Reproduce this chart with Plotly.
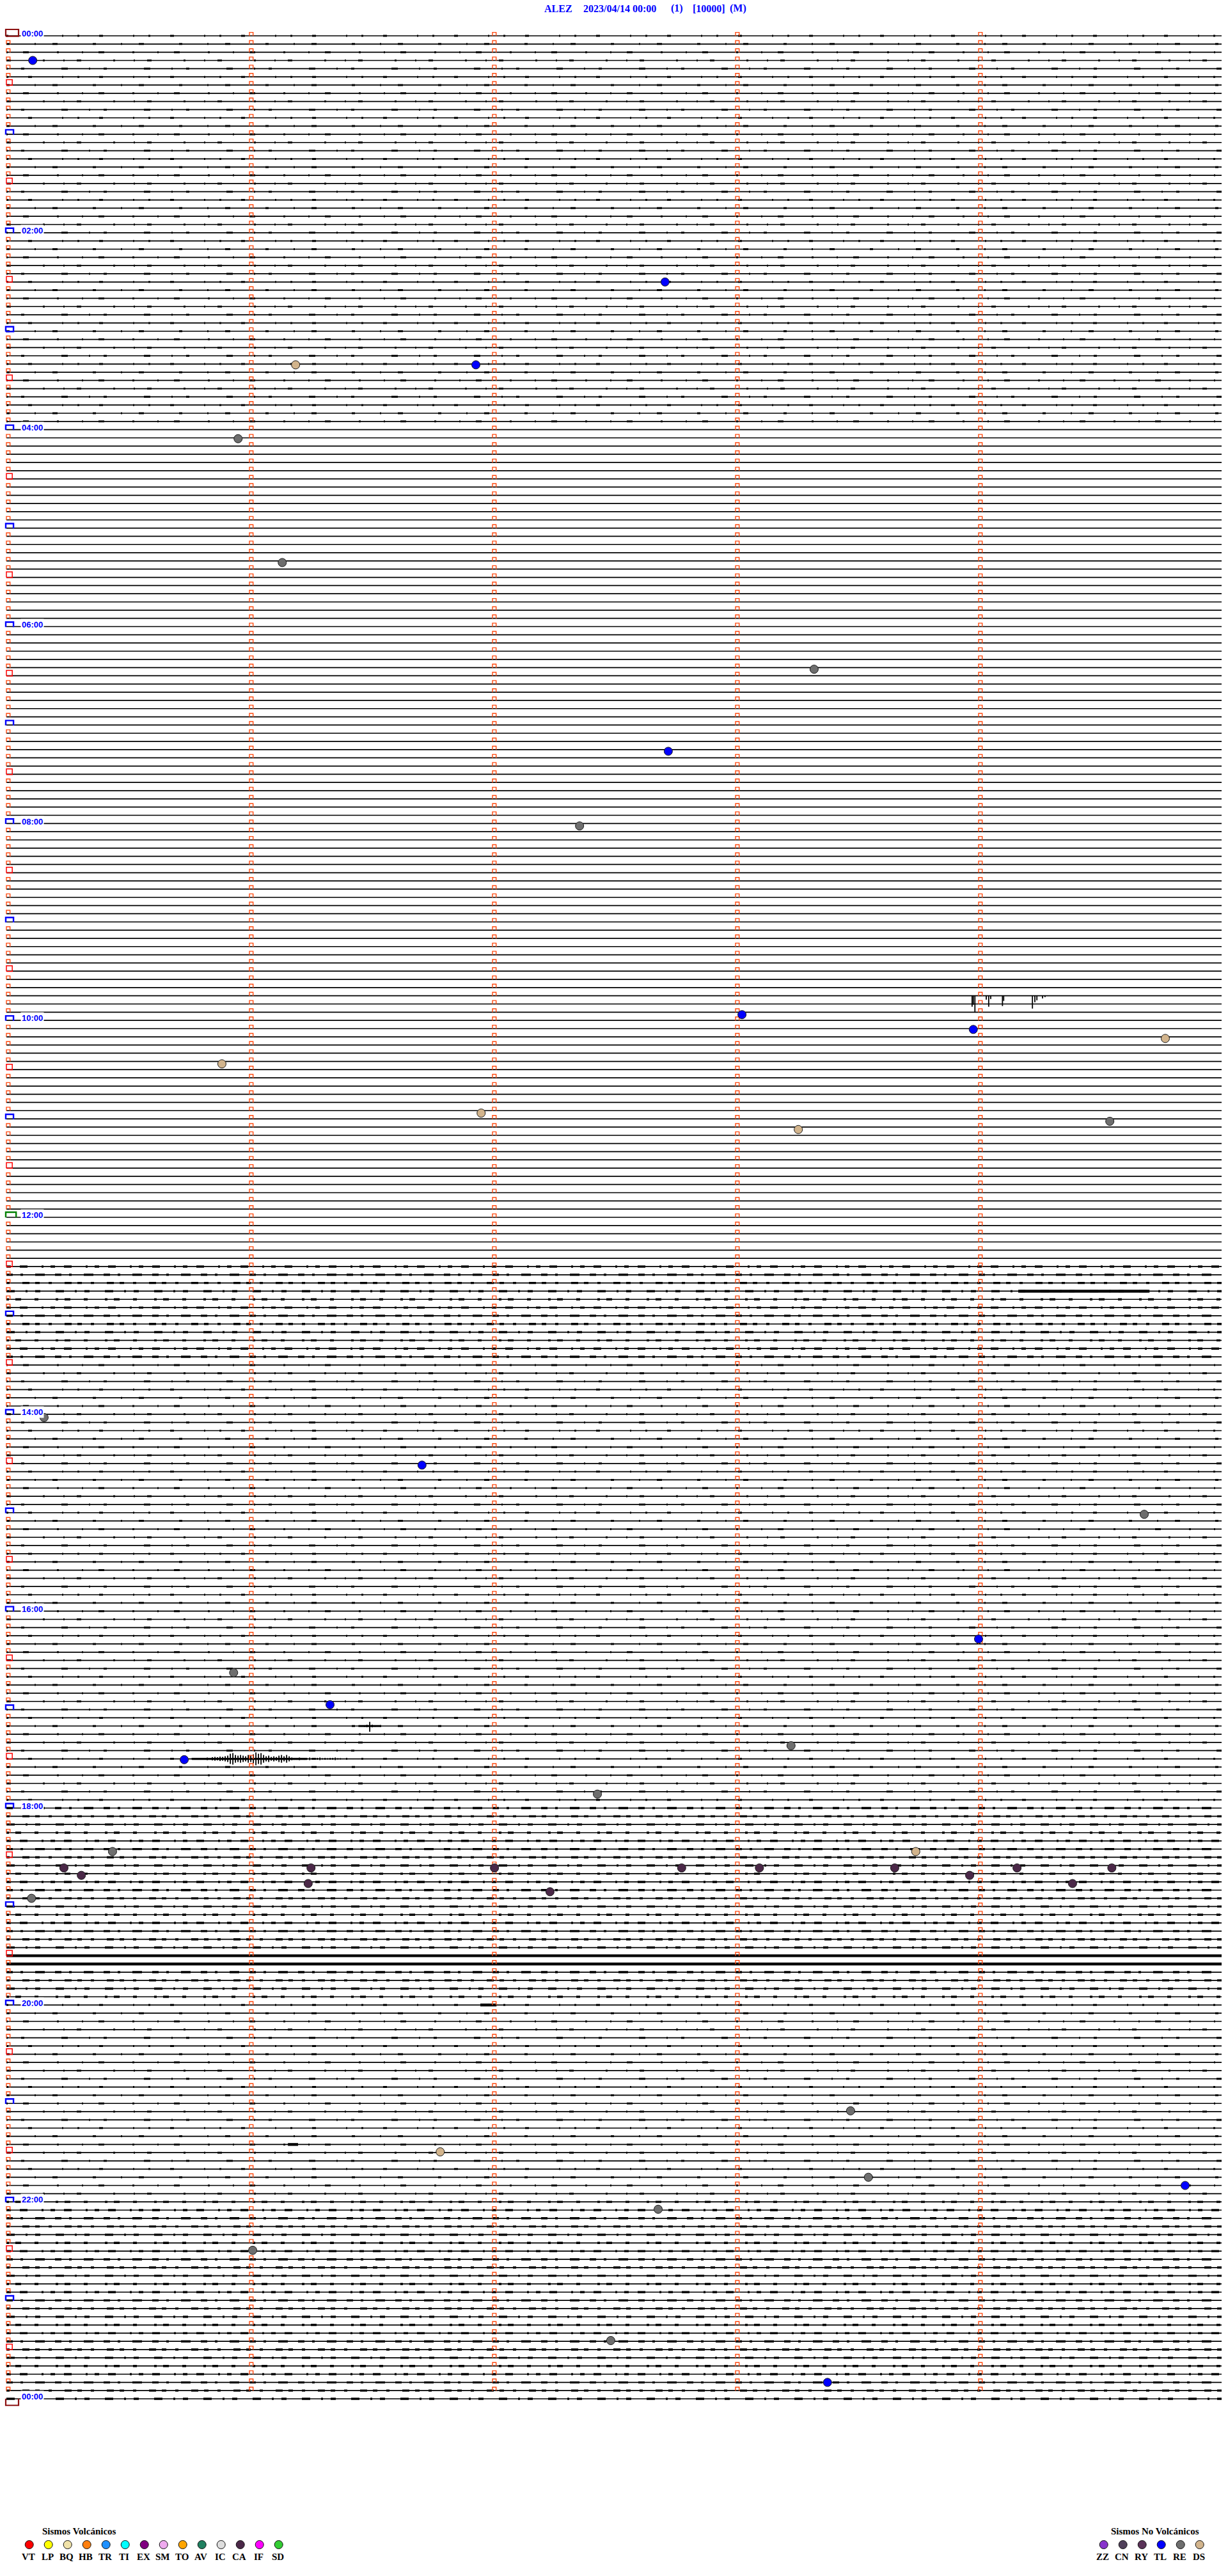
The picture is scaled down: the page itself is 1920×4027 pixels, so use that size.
import plotly.graph_objects as go

# ---------------- data ----------------
STATION = "ALEZ"
DATE_TXT = "2023/04/14 00:00"
TITLE_EXTRA = ["(1)", "[10000]", "(M)"]

N_ROWS = 289            # 5-minute rows, 00:00 .. 24:00
ROW_SECONDS = 300
MINUTE_TICKS = [0, 60, 120, 180, 240]

hour_labels = ["00:00", "02:00", "04:00", "06:00", "08:00", "10:00", "12:00",
               "14:00", "16:00", "18:00", "20:00", "22:00", "00:00"]
label_rows = [0, 24, 48, 72, 96, 120, 144, 168, 192, 216, 240, 264, 288]

# background noise level per half hour (0 quiet, 1 light, 2 busy)
half_hour_noise = [1, 1, 1, 1, 1, 1, 1, 1,
                   0, 0, 0, 0, 0, 0, 0, 0,
                   0, 0, 0, 0, 0, 0, 0, 0,
                   0, 2, 2, 1, 1, 1, 1, 1,
                   1, 1, 1, 1, 2, 2, 2, 2,
                   1, 1, 1, 1, 2, 2, 2, 2, 2]

# rows / segments with heavy continuous noise: (row, t_start, t_end)
heavy_rows = [234, 235]
busy_seg_row = [153, 240, 257]
busy_seg_t0 = [249.8, 117.0, 69.5]
busy_seg_t1 = [282.2, 121.0, 72.0]

# 09:45 row: downward spikes (time s, amplitude in row spacings)
spike_row = 117
spike_t = [238.4, 238.7, 239.1, 241.9, 242.5, 243.0, 245.9, 246.2, 253.3, 253.9, 254.4, 255.8, 256.4]
spike_amp = [1.33, 1.09, 2.03, 0.47, 1.33, 0.39, 1.25, 0.62, 1.56, 0.78, 0.55, 0.31, 0.16]

# 17:30 row: tremor-like burst (peak amplitudes, row spacings)
burst_row = 210
burst_t0 = 45.8
burst_dt = 0.632
burst_amp = [0.08, 0.08, 0.12, 0.08, 0.12, 0.08, 0.16, 0.12, 0.2, 0.23, 0.2, 0.27, 0.23, 0.31,
             0.39, 0.62, 0.7, 0.47, 0.39, 0.47, 0.39, 0.31, 0.47, 0.39, 0.55, 0.78, 0.62, 0.7,
             0.47, 0.31, 0.39, 0.23, 0.31, 0.23, 0.39, 0.47, 0.31, 0.47, 0.31, 0.16, 0.12, 0.12,
             0.16, 0.08, 0.12, 0.08, 0.16, 0.12, 0.08, 0.12, 0.16, 0.08, 0.12, 0.08, 0.12, 0.12,
             0.16, 0.08, 0.08, 0.04, 0.0, 0.04, 0.0, 0.04, 0.0, 0.04]

# 17:10 row small event
cross_row = 206
cross_t = [88.4, 89.0, 89.7, 90.3, 91.0]
cross_up = [0.1, 0.15, 0.5, 0.15, 0.1]
cross_down = [0.1, 0.15, 0.7, 0.15, 0.08]

# classified events: time within row (s), row position, class
ev_t = [6.5, 162.6, 71.4, 115.9, 57.2, 68.1, 199.4, 163.4, 141.5, 181.6, 238.7, 286.1,
        53.2, 117.2, 195.5, 272.4, 9.3, 102.6, 280.9, 240.0, 56.1, 79.9, 193.7, 43.9,
        145.9, 26.2, 224.5, 14.2, 18.5, 75.2, 74.5, 120.5, 134.2, 6.2, 166.7, 185.9,
        219.3, 237.8, 249.5, 263.2, 272.9, 208.4, 107.1, 212.8, 291.0, 160.9, 60.8,
        149.2, 202.7]
ev_row = [3.0, 30.0, 40.1, 40.1, 49.1, 64.2, 77.2, 87.2, 96.3, 119.3, 121.1, 122.2,
          125.3, 131.3, 133.3, 132.3, 168.4, 174.2, 180.2, 195.4, 199.5, 203.4, 208.4, 210.1,
          214.3, 221.3, 221.3, 223.3, 224.2, 223.3, 225.2, 223.3, 226.2, 227.0, 223.3, 223.3,
          223.3, 224.2, 223.3, 225.2, 223.3, 252.9, 257.9, 261.0, 262.0, 264.9, 269.9,
          280.9, 286.0]
ev_cls = ["TL", "TL", "DS", "TL", "RE", "RE", "RE", "TL", "RE", "TL", "TL", "DS",
          "DS", "DS", "DS", "RE", "RE", "TL", "RE", "TL", "RE", "TL", "RE", "TL",
          "RE", "RE", "DS", "CA", "CA", "CA", "CA", "CA", "CA", "RE", "CA", "CA",
          "CA", "CA", "CA", "CA", "CA", "RE", "DS", "RE", "TL", "RE", "RE",
          "RE", "TL"]

volc_codes = ["VT", "LP", "BQ", "HB", "TR", "TI", "EX", "SM", "TO", "AV", "IC", "CA", "IF", "SD"]
volc_colors = ["#ff0000", "#ffff00", "#f0e2a8", "#ff8010", "#1e90ff", "#00ffff", "#800080",
               "#eeaaee", "#ffa500", "#208060", "#dddddd", "#4b2848", "#ff00ff", "#33cc33"]
novolc_codes = ["ZZ", "CN", "RY", "TL", "RE", "DS"]
novolc_colors = ["#8833cc", "#50405a", "#5a3258", "#0000ff", "#6e6e6e", "#d2b48c"]

# ---------------- layout constants ----------------
W, H = 1920, 4027
X0_PX, PX_PER_SEC = 10.0, 380.0 / 60.0
Y0_PX, ROW_PX = 56.0, (3750.0 - 56.0) / 288.0
XR = [-X0_PX / PX_PER_SEC, (W - X0_PX) / PX_PER_SEC]
YR = [(H - Y0_PX) / ROW_PX, -Y0_PX / ROW_PX]
SEC_PER_PX = 1.0 / PX_PER_SEC

color_of = dict(zip(volc_codes + novolc_codes, volc_colors + novolc_colors))

fig = go.Figure()


def add_path(xs, ys, color, width, dash=None, xaxis="x", yaxis="y"):
    fig.add_trace(go.Scatter(x=xs, y=ys, mode="lines", hoverinfo="skip",
                             line=dict(color=color, width=width, dash=dash),
                             xaxis=xaxis, yaxis=yaxis, connectgaps=False))


# baselines
bx, by = [], []
for r in range(N_ROWS):
    bx += [0, ROW_SECONDS, None]
    by += [r, r, None]
add_path(bx, by, "#000000", 1.7)

# noise texture overlays (style only)
lvl1_dash = ["3px,31px,6px,47px,2px,22px", "5px,39px,2px,26px,8px,55px",
             "2px,24px,9px,44px,3px,36px", "7px,50px,3px,29px,2px,19px",
             "2px,21px,5px,58px,10px,33px"]
lvl2_dash = ["7px,14px,12px,22px,3px,11px", "10px,12px,4px,19px,15px,16px",
             "5px,20px,11px,9px,7px,14px", "13px,17px,3px,12px,8px,24px",
             "4px,10px,9px,21px,6px,27px"]
groups = {}
for r in range(N_ROWS):
    lvl = half_hour_noise[min(r // 6, len(half_hour_noise) - 1)]
    if r in heavy_rows or lvl == 0:
        continue
    key = (lvl, r % 5)
    gx, gy = groups.setdefault(key, ([], []))
    gx += [0, ROW_SECONDS, None]
    gy += [r, r, None]
for (lvl, k), (gx, gy) in groups.items():
    if lvl == 1:
        add_path(gx, gy, "#000000", 3.0, lvl1_dash[k])
    else:
        add_path(gx, gy, "#000000", 3.4, lvl2_dash[k])

hx, hy = [], []
for r in heavy_rows:
    hx += [0, ROW_SECONDS, None]
    hy += [r, r, None]
for r, t0, t1 in zip(busy_seg_row, busy_seg_t0, busy_seg_t1):
    hx += [t0, t1, None]
    hy += [r, r, None]
add_path(hx, hy, "#000000", 4.4)

# seismic signals
sx, sy = [], []
for t, a in zip(spike_t, spike_amp):
    sx += [t, t, None]
    sy += [spike_row - 0.05, spike_row + a, None]
for i, a in enumerate(burst_amp):
    t = burst_t0 + i * burst_dt
    sx += [t, t, None]
    sy += [burst_row - a, burst_row + a, None]
for t, u, d in zip(cross_t, cross_up, cross_down):
    sx += [t, t, None]
    sy += [cross_row - u, cross_row + d, None]
add_path(sx, sy, "#000000", 1.8)
# thickened baseline along the burst
add_path([burst_t0, burst_t0 + burst_dt * 45, None, cross_t[0] - 1.5, cross_t[-1] + 1.5],
         [burst_row, burst_row, None, cross_row, cross_row], "#000000", 3.2)

# minute / row tick marks
hour_rows = set(range(12, 288, 12))
half_rows = set(range(6, 288, 12))


def box(xs, ys, t0, t1, top, bottom, closed=False):
    xs += [t0, t0, t1, t1] + ([t0] if closed else []) + [None]
    ys += [bottom, top, top, bottom] + ([bottom] if closed else []) + [None]


ox, oy = [], []
for r in range(288):
    for t in MINUTE_TICKS:
        if t == 0 and (r in hour_rows or r in half_rows or r == 0):
            continue
        box(ox, oy, t, t + 0.9, r - 0.42, r + 0.02)
add_path(ox, oy, "#ff4a10", 1.4)

rx, ry = [], []
for r in sorted(half_rows):
    box(rx, ry, 0, 1.45, r - 0.66, r + 0.02, closed=True)
add_path(rx, ry, "#ff0000", 1.5)

ux, uy = [], []
for r in sorted(hour_rows):
    if r == 144:
        continue
    box(ux, uy, -0.16, 1.75, r - 0.55, r + 0.05, closed=(r == 36))
add_path(ux, uy, "#0000ff", 2.4)

gx, gy = [], []
box(gx, gy, -0.16, 2.4, 144 - 0.62, 144 + 0.02)
add_path(gx, gy, "#008000", 2.4)

dx, dy = [], []
box(dx, dy, -0.16, 3.0, -0.78, 0.05, closed=True)
box(dx, dy, -0.16, 3.0, 288 + 0.8, 288 - 0.02)
add_path(dx, dy, "#8b1010", 2.2)

# classified events
fig.add_trace(go.Scatter(
    x=ev_t, y=ev_row, mode="markers", hoverinfo="skip",
    marker=dict(size=13, color=[color_of[c] for c in ev_cls],
                line=dict(color="#1a1a1a", width=1))))

# hour labels
annotations = []
for lab, r in zip(hour_labels, label_rows):
    annotations.append(dict(
        x=(32 - X0_PX) * SEC_PER_PX, y=r - 0.25, xref="x", yref="y", text=lab,
        showarrow=False, xanchor="left", yanchor="middle", bgcolor="#ffffff",
        borderpad=1, font=dict(family="Liberation Sans", size=13, color="#0000ff",
                               weight="bold")))

# title
title_parts = [STATION, DATE_TXT] + TITLE_EXTRA
title_cx = [873, 969, 1058, 1108, 1154]
for txt, cx in zip(title_parts, title_cx):
    annotations.append(dict(x=cx / W, y=1 - 13 / H, xref="paper", yref="paper",
                            text=txt, showarrow=False, xanchor="center", yanchor="middle",
                            font=dict(family="Liberation Serif", size=16, color="#0000ff",
                                      weight="bold")))

# legends (drawn on a pixel overlay axis)
LEG_Y_TITLE, LEG_Y_DOT, LEG_Y_LAB = 3957, 3978, 3997
volc_x = [45.7 + 30 * i for i in range(len(volc_codes))]
novolc_x = [1725.7 + 30 * i for i in range(len(novolc_codes))]
fig.add_trace(go.Scatter(
    x=volc_x + novolc_x, y=[LEG_Y_DOT] * (len(volc_x) + len(novolc_x)),
    mode="markers", hoverinfo="skip", xaxis="x2", yaxis="y2",
    marker=dict(size=13, color=volc_colors + novolc_colors,
                line=dict(color="#111111", width=1))))
for code, cx in zip(volc_codes + novolc_codes, volc_x + novolc_x):
    annotations.append(dict(x=cx - 1.5, y=LEG_Y_LAB, xref="x2", yref="y2", text=code,
                            showarrow=False, xanchor="center", yanchor="middle",
                            font=dict(family="Liberation Serif", size=15, color="#000000",
                                      weight="bold")))
annotations.append(dict(x=124, y=LEG_Y_TITLE, xref="x2", yref="y2", text="Sismos Volcánicos",
                        showarrow=False, xanchor="center", yanchor="middle",
                        font=dict(family="Liberation Serif", size=15, color="#000000",
                                  weight="bold")))
annotations.append(dict(x=1806, y=LEG_Y_TITLE, xref="x2", yref="y2",
                        text="Sismos No Volcánicos", showarrow=False, xanchor="center",
                        yanchor="middle",
                        font=dict(family="Liberation Serif", size=15, color="#000000",
                                  weight="bold")))

fig.update_layout(
    width=W, height=H, margin=dict(l=0, r=0, t=0, b=0),
    paper_bgcolor="#ffffff", plot_bgcolor="#ffffff", showlegend=False,
    xaxis=dict(range=XR, visible=False, domain=[0, 1]),
    yaxis=dict(range=YR, visible=False, domain=[0, 1]),
    xaxis2=dict(range=[0, W], visible=False, overlaying="x", anchor="y2"),
    yaxis2=dict(range=[H, 0], visible=False, overlaying="y", anchor="x2"),
    annotations=annotations,
)

fig.write_html("out.html", config={"displayModeBar": False},
               post_script="document.body.style.margin='0';document.body.style.overflow='hidden';")
